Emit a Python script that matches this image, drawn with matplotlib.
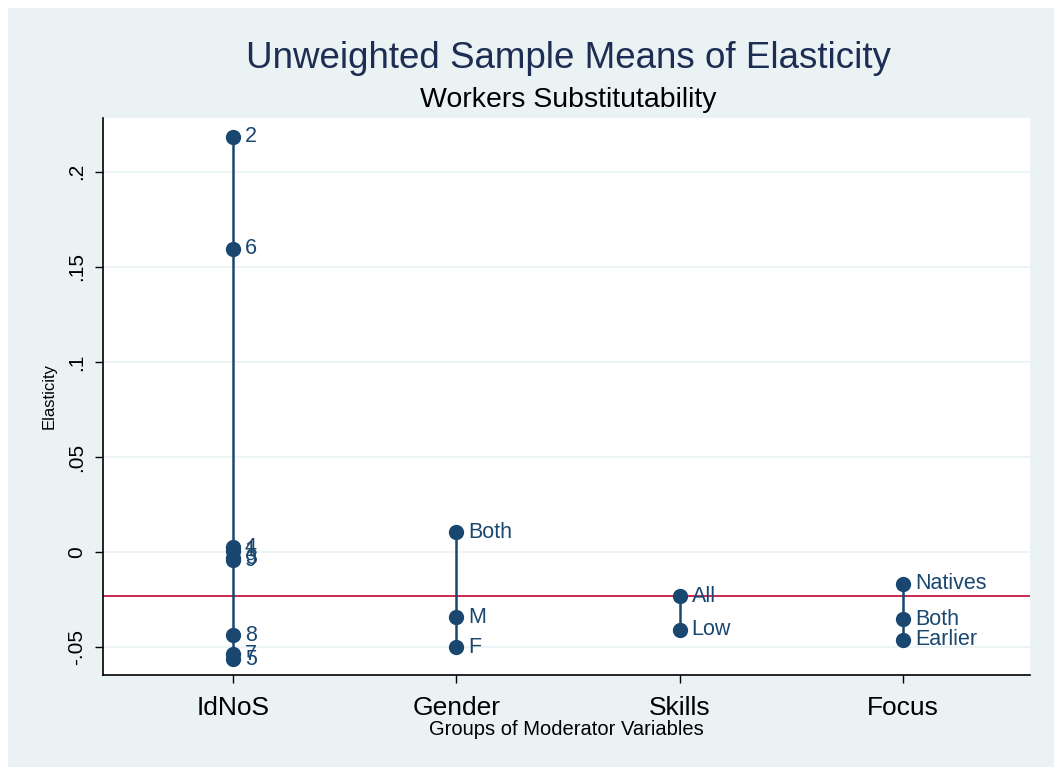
import numpy as np
import matplotlib
matplotlib.use('Agg')
from matplotlib import pyplot as plt
from matplotlib.patches import Rectangle

plt.rcParams['font.family'] = ['Liberation Sans', 'DejaVu Sans']

groups = ['IdNoS', 'Gender', 'Skills', 'Focus']

idnos_labels = ['2', '6', '4', '1', '3', '9', '8', '7', '5']
idnos_values = [0.2184, 0.1595, 0.0025, 0.0008, -0.0033, -0.0043, -0.0437, -0.0537, -0.0565]

gender_labels = ['Both', 'M', 'F']
gender_values = [0.0105, -0.0343, -0.0502]

skills_labels = ['All', 'Low']
skills_values = [-0.0232, -0.0410]

focus_labels = ['Natives', 'Both', 'Earlier']
focus_values = [-0.0168, -0.0353, -0.0462]

overall_mean = -0.0232

point_labels = [idnos_labels, gender_labels, skills_labels, focus_labels]
point_values = [idnos_values, gender_values, skills_values, focus_values]

navy = '#1a476f'
bg = '#eaf2f3'

fig = plt.figure(figsize=(10.62, 7.75), dpi=100)
fig.patch.set_facecolor('white')
fig.patches.append(Rectangle((0.008, 0.01), 0.984, 0.98, transform=fig.transFigure,
                             facecolor=bg, edgecolor='none', zorder=-10))

ax = fig.add_axes([0.097, 0.129, 0.873, 0.719])
ax.set_facecolor('white')

for i, (labs, vals) in enumerate(zip(point_labels, point_values)):
    x = i + 1
    ax.plot([x, x], [min(vals), max(vals)], color=navy, lw=1.8, zorder=3)
    ax.plot([x] * len(vals), vals, 'o', color=navy, ms=10, zorder=4)
    for lab, v in zip(labs, vals):
        ax.annotate(lab, (x, v), xytext=(8.5, 0), textcoords='offset points',
                    ha='left', va='center', fontsize=15.5, color=navy, zorder=5)

ax.axhline(overall_mean, color='#c10534', lw=1.2, zorder=2)

ax.set_xlim(0.418, 4.568)
ax.set_ylim(-0.0647, 0.2284)
yt = [-0.05, 0, 0.05, 0.1, 0.15, 0.2]
ax.set_yticks(yt)
ax.set_yticklabels(['-.05', '0', '.05', '.1', '.15', '.2'], rotation=90, va='center', fontsize=15)
ax.set_xticks([1, 2, 3, 4])
ax.set_xticklabels(groups, fontsize=19)
ax.yaxis.grid(True, color=bg, lw=1.2, zorder=0)
ax.tick_params(length=6, width=1, color='black', pad=6)
ax.tick_params(axis='x', pad=9)
for s in ['top', 'right']:
    ax.spines[s].set_visible(False)
for s in ['left', 'bottom']:
    ax.spines[s].set_linewidth(1.2)

ax.set_ylabel('Elasticity', fontsize=12, labelpad=8)
ax.set_xlabel('Groups of Moderator Variables', fontsize=14.5, labelpad=0)

fig.text(0.535, 0.925, 'Unweighted Sample Means of Elasticity', ha='center', va='center',
         fontsize=26.5, color='#1e2d53')
fig.text(0.535, 0.871, 'Workers Substitutability', ha='center', va='center',
         fontsize=20.5, color='black')

fig.savefig('out.png', dpi=100, facecolor=fig.get_facecolor())
